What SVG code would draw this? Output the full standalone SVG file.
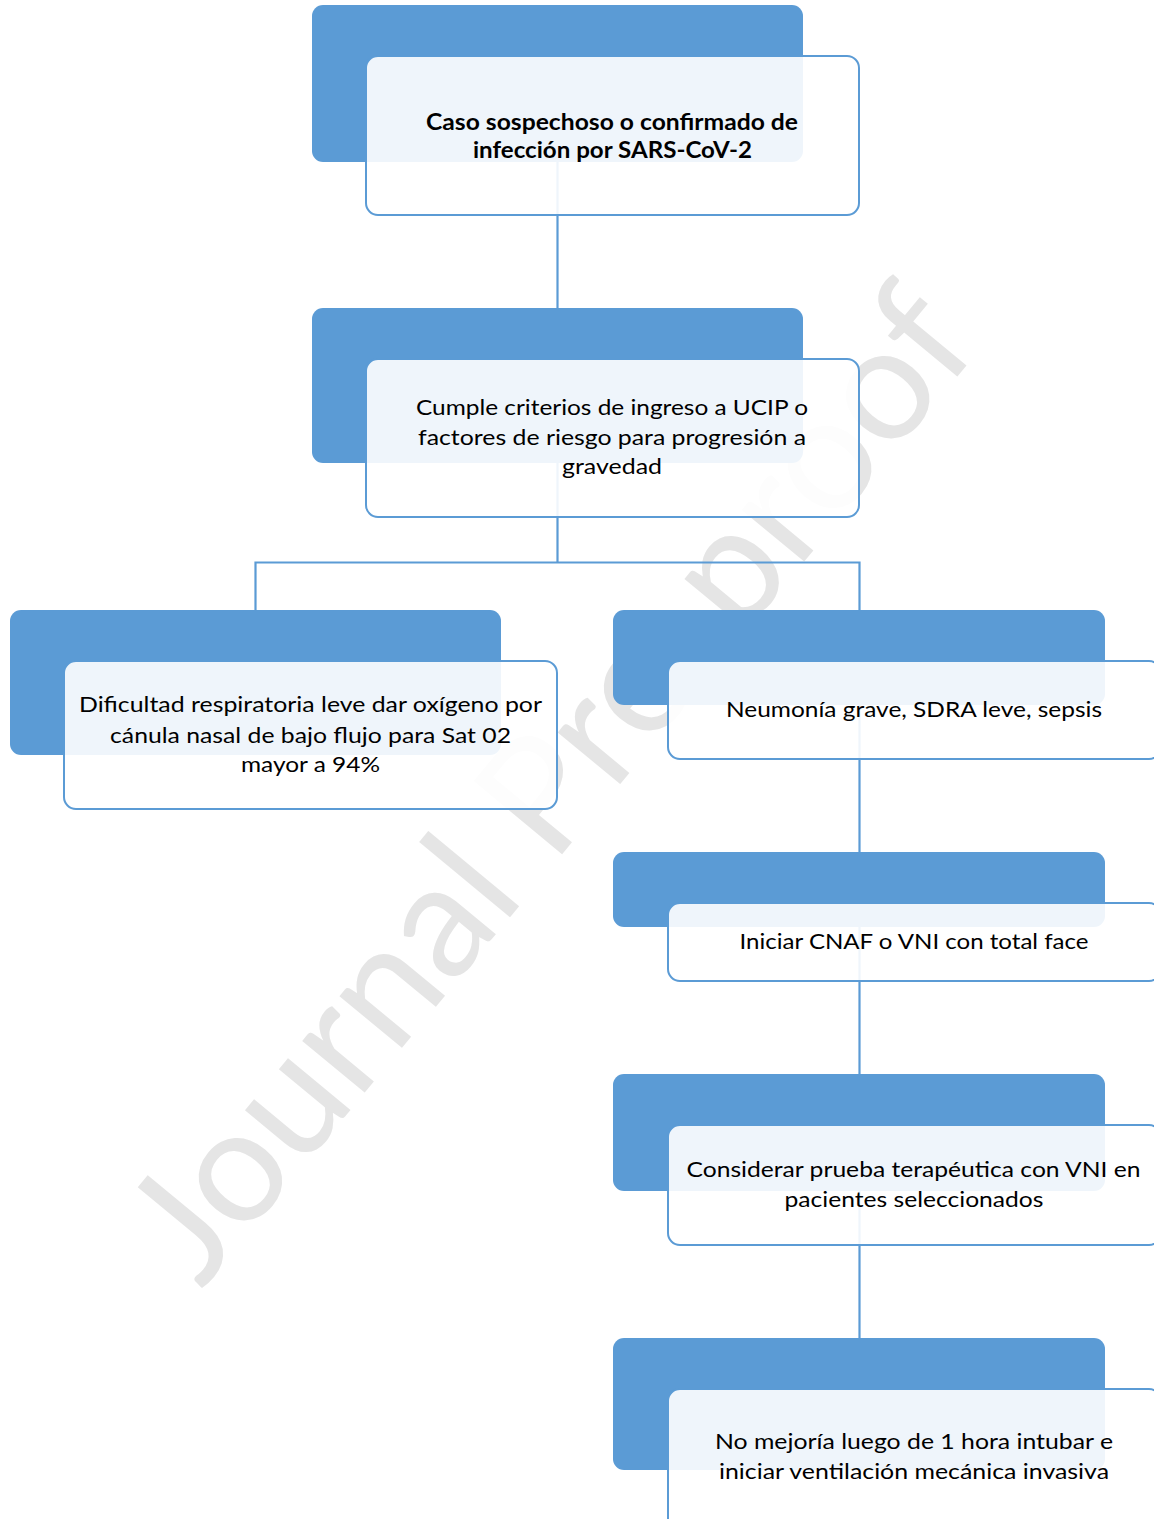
<svg xmlns="http://www.w3.org/2000/svg" width="1154" height="1519" viewBox="0 0 1154 1519">
  <style>
    .back { fill: #5B9BD5; }
    .front { fill: #FFFFFF; fill-opacity: 0.9; stroke: #5B9BD5; stroke-width: 2; }
    .link { fill: none; stroke: #5B9BD5; stroke-width: 2.2; }
    .lbl { font-family: Lato, "Open Sans", "Liberation Sans", sans-serif; font-size: 22px; fill: #000000; text-anchor: middle; }
    .bold { font-weight: bold; font-size: 23px; }
    .mark { font-family: Lato, "Open Sans", "Liberation Sans", sans-serif; font-size: 160px; fill: #E5E5E5; text-anchor: middle; }
  </style>

  <rect x="0" y="0" width="1154" height="1519" fill="#FFFFFF"/>

  <!-- watermark behind everything -->
  <text class="mark" x="592" y="818" textLength="1225" lengthAdjust="spacingAndGlyphs" transform="rotate(-50.4 592 818)">Journal Pre-proof</text>

  <!-- connectors -->
  <g id="connectors">
    <path class="link" d="M557.5 162 V308"/>
    <path class="link" d="M557.5 462 V562.5 M255.5 610 V562.5 H859.5 V610"/>
    <path class="link" d="M859.5 705 V852"/>
    <path class="link" d="M859.5 927 V1074"/>
    <path class="link" d="M859.5 1191 V1338"/>
  </g>

  <g id="node-caso">
    <rect class="back" x="312" y="5" width="491" height="157" rx="11"/>
    <rect class="front" x="366" y="56" width="493" height="159" rx="12"/>
    <text class="lbl bold" x="612" y="130" textLength="372" lengthAdjust="spacingAndGlyphs">Caso sospechoso o confirmado de</text>
    <text class="lbl bold" x="612.5" y="158" textLength="279" lengthAdjust="spacingAndGlyphs">infección por SARS-CoV-2</text>
  </g>

  <g id="node-criterios">
    <rect class="back" x="312" y="308" width="491" height="155" rx="11"/>
    <rect class="front" x="366" y="359" width="493" height="158" rx="12"/>
    <text class="lbl" x="612" y="415" textLength="392" lengthAdjust="spacingAndGlyphs">Cumple criterios de ingreso a UCIP o</text>
    <text class="lbl" x="612" y="445" textLength="388" lengthAdjust="spacingAndGlyphs">factores de riesgo para progresión a</text>
    <text class="lbl" x="612" y="474" textLength="100" lengthAdjust="spacingAndGlyphs">gravedad</text>
  </g>

  <g id="node-leve">
    <rect class="back" x="10" y="610" width="491" height="145" rx="11"/>
    <rect class="front" x="64" y="661" width="493" height="148" rx="12"/>
    <text class="lbl" x="310.5" y="712" textLength="463" lengthAdjust="spacingAndGlyphs">Dificultad respiratoria leve dar oxígeno por</text>
    <text class="lbl" x="310.5" y="743" textLength="401" lengthAdjust="spacingAndGlyphs">cánula nasal de bajo flujo para Sat 02</text>
    <text class="lbl" x="310.5" y="772" textLength="139" lengthAdjust="spacingAndGlyphs">mayor a 94%</text>
  </g>

  <g id="node-neumonia">
    <rect class="back" x="613" y="610" width="492" height="95" rx="11"/>
    <rect class="front" x="668" y="661" width="493" height="98" rx="12"/>
    <text class="lbl" x="914" y="717" textLength="376" lengthAdjust="spacingAndGlyphs">Neumonía grave, SDRA leve, sepsis</text>
  </g>

  <g id="node-cnaf">
    <rect class="back" x="613" y="852" width="492" height="75" rx="11"/>
    <rect class="front" x="668" y="903" width="493" height="78" rx="12"/>
    <text class="lbl" x="914" y="949" textLength="349" lengthAdjust="spacingAndGlyphs">Iniciar CNAF o VNI con total face</text>
  </g>

  <g id="node-vni">
    <rect class="back" x="613" y="1074" width="492" height="117" rx="11"/>
    <rect class="front" x="668" y="1125" width="493" height="120" rx="12"/>
    <text class="lbl" x="913.5" y="1177" textLength="454" lengthAdjust="spacingAndGlyphs">Considerar prueba terapéutica con VNI en</text>
    <text class="lbl" x="914" y="1207" textLength="259" lengthAdjust="spacingAndGlyphs">pacientes seleccionados</text>
  </g>

  <g id="node-intubar">
    <rect class="back" x="613" y="1338" width="492" height="132" rx="11"/>
    <rect class="front" x="668" y="1389" width="493" height="150" rx="12"/>
    <text class="lbl" x="914" y="1449" textLength="398" lengthAdjust="spacingAndGlyphs">No mejoría luego de 1 hora intubar e</text>
    <text class="lbl" x="914" y="1479" textLength="390" lengthAdjust="spacingAndGlyphs">iniciar ventilación mecánica invasiva</text>
  </g>
</svg>
